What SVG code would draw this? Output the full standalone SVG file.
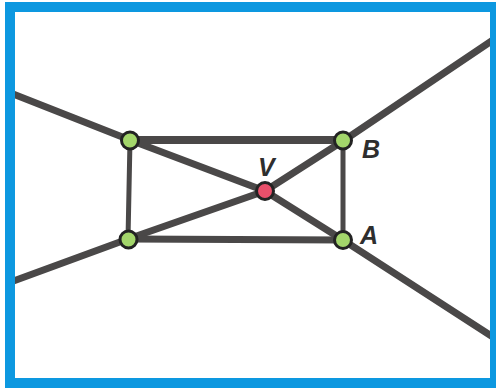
<svg xmlns="http://www.w3.org/2000/svg" width="496" height="391" viewBox="0 0 496 391">
<style>
.bg{fill:#fff}
.frame{fill:none;stroke:#0d98e0;stroke-width:10}
.ln{fill:none;stroke:#4a4848;stroke-width:7;stroke-linecap:butt;stroke-linejoin:round}
.edge{fill:none;stroke:#4a4848;stroke-linecap:round}
.pt{stroke:#232323;stroke-width:3}
.g{fill:#a3d66b}
.r{fill:#e9506b}
.lbl{font-family:"Liberation Sans",Arial,sans-serif;font-style:italic;font-weight:bold;font-size:25px;fill:#2e2e2e}
</style>
<rect class="bg" x="10" y="7" width="485" height="376"/>
<g id="connectors">
<polyline class="ln" points="8,92 130,140 265,191 343,240 496,339"/>
<polyline class="ln" points="496,38 343,141 265,191 128,239 8,283"/>
<line class="edge" x1="130" y1="140" x2="343" y2="140" stroke-width="8"/>
<line class="edge" x1="128" y1="239" x2="343" y2="240" stroke-width="7"/>
<line class="edge" x1="130" y1="140" x2="128" y2="239" stroke-width="5"/>
<line class="edge" x1="343" y1="140" x2="343" y2="240" stroke-width="5"/>
</g>
<rect class="frame" x="10" y="7" width="485" height="376"/>
<g id="node-tl"><circle class="pt g" cx="130" cy="140.5" r="8.5"/></g>
<g id="node-bl"><circle class="pt g" cx="128.5" cy="239.5" r="8.5"/></g>
<g id="node-B"><circle class="pt g" cx="343" cy="140.5" r="8.5"/><text class="lbl" x="362" y="158">B</text></g>
<g id="node-A"><circle class="pt g" cx="343" cy="240" r="8.5"/><text class="lbl" x="360" y="244">A</text></g>
<g id="node-V"><circle class="pt r" cx="265" cy="191" r="8.5"/><text class="lbl" x="258" y="176">V</text></g>
</svg>
